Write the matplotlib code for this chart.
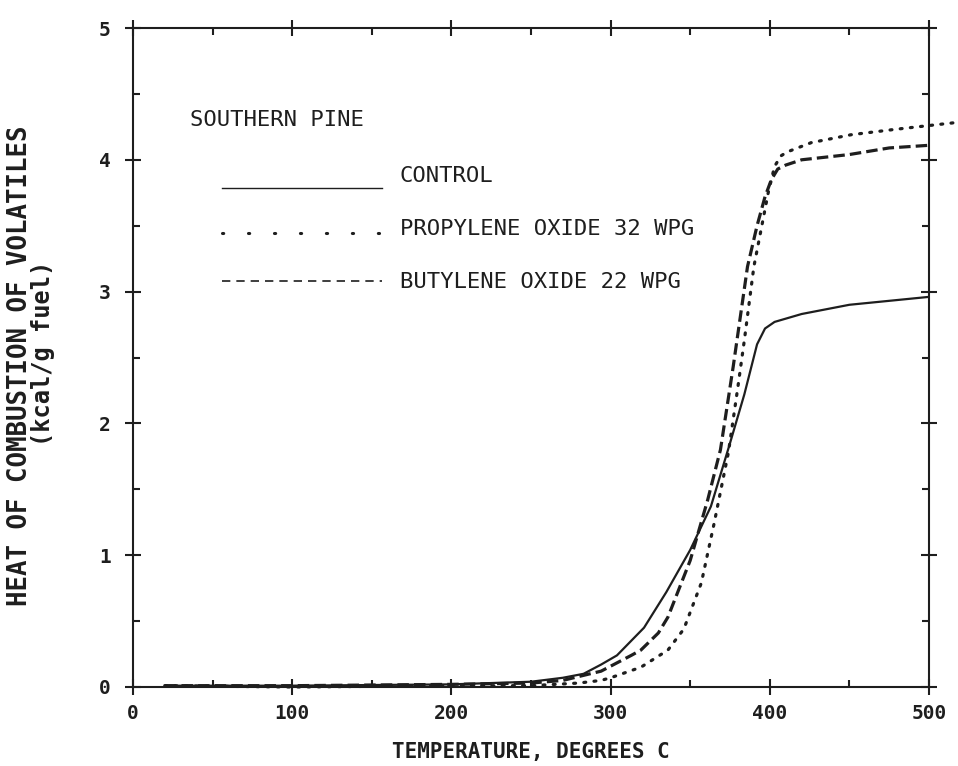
import matplotlib
matplotlib.use("Agg")
import matplotlib.pyplot as plt
from matplotlib.lines import Line2D
from matplotlib.legend_handler import HandlerLine2D
from matplotlib.ticker import MultipleLocator

# ── data ───────────────────────────────────────────────────────────────────
temp_control = [20, 100, 200, 250, 270, 283, 294, 304, 321, 335, 350, 363,
                 375, 384, 392, 397, 403, 420, 450, 475, 500]
heat_control = [0.01, 0.01, 0.02, 0.04, 0.07, 0.10, 0.17, 0.24, 0.45, 0.72,
                1.04, 1.37, 1.85, 2.22, 2.60, 2.72, 2.77, 2.83, 2.90, 2.93, 2.96]

temp_butylene = [20, 100, 200, 250, 270, 287, 294, 313, 319, 330, 336, 350,
                 361, 369, 377, 386, 392, 397, 401, 405, 410, 420, 450, 475, 500]
heat_butylene = [0.01, 0.01, 0.02, 0.03, 0.05, 0.10, 0.12, 0.24, 0.28, 0.41,
                 0.53, 0.96, 1.42, 1.80, 2.43, 3.19, 3.50, 3.72, 3.85, 3.93,
                 3.96, 4.00, 4.04, 4.09, 4.11]

temp_propylene = [20, 100, 200, 250, 280, 294, 300, 319, 336, 346, 357, 365,
                  374, 380, 384, 390, 395, 399, 403, 407, 411, 426, 451, 478,
                  500, 515]
heat_propylene = [0.01, 0.00, 0.01, 0.01, 0.03, 0.05, 0.07, 0.15, 0.28, 0.44,
                  0.79, 1.24, 1.78, 2.28, 2.63, 3.19, 3.50, 3.75, 3.95, 4.03,
                  4.06, 4.13, 4.19, 4.23, 4.26, 4.28]

series_labels = ["CONTROL", "PROPYLENE OXIDE 32 WPG", "BUTYLENE OXIDE 22 WPG"]

ink = "#1e1e1e"
mono = "DejaVu Sans Mono"
W, H = 958, 766


class DroppedLine(HandlerLine2D):
    """Legend line drawn a little below the label's centre (like the original)."""
    def __init__(self, drop, **kw):
        super().__init__(**kw)
        self.drop = drop

    def create_artists(self, legend, orig_handle, xdescent, ydescent,
                       width, height, fontsize, trans):
        return super().create_artists(legend, orig_handle, xdescent,
                                      ydescent + 2 * self.drop, width, height,
                                      fontsize, trans)


fig = plt.figure(figsize=(W / 100, H / 100), dpi=100)
ax = fig.add_axes([133 / W, 1 - 687 / H, (929 - 133) / W, (687 - 28) / H])

ax.plot(temp_control, heat_control, color=ink, lw=1.6, zorder=3)
ax.plot(temp_propylene, heat_propylene, color=ink, lw=2.3,
        linestyle=(0, (0.6, 2.6)), dash_capstyle="round", clip_on=False, zorder=3)
ax.plot(temp_butylene, heat_butylene, color=ink, lw=2.3,
        linestyle=(0, (3.6, 1.6)), zorder=3)

ax.set_xlim(0, 500)
ax.set_ylim(0, 5)
ax.xaxis.set_major_locator(MultipleLocator(100))
ax.xaxis.set_minor_locator(MultipleLocator(50))
ax.yaxis.set_major_locator(MultipleLocator(1))
ax.yaxis.set_minor_locator(MultipleLocator(0.5))

ax.tick_params(which="major", direction="inout", length=12, width=1.5,
               color=ink, top=True, right=True)
ax.tick_params(which="minor", direction="in", length=5, width=1.5,
               color=ink, top=True, right=True)
ax.tick_params(axis="x", which="major", pad=6)
ax.tick_params(axis="y", which="major", pad=10)
for lab in ax.get_xticklabels() + ax.get_yticklabels():
    lab.set_fontfamily(mono)
    lab.set_fontweight("bold")
    lab.set_fontsize(14)
    lab.set_color(ink)
for sp in ax.spines.values():
    sp.set_linewidth(1.5)
    sp.set_color(ink)

ax.set_xlabel("TEMPERATURE, DEGREES C", fontfamily=mono, fontweight="bold",
              fontsize=15, color=ink, labelpad=14)
fig.text(20 / W, 1 - 366 / H, "HEAT OF COMBUSTION OF VOLATILES", rotation=90,
         ha="center", va="center", fontfamily=mono, fontweight="bold",
         fontsize=18.5, color=ink)
fig.text(43 / W, 1 - 353 / H, "(kcal/g fuel)", rotation=90,
         ha="center", va="center", fontfamily=mono, fontweight="bold",
         fontsize=17, color=ink)

# ── legend ─────────────────────────────────────────────────────────────────
ax.text((190 - 133) / 796, 1 - (120 - 28) / 659, "SOUTHERN PINE",
        transform=ax.transAxes, fontfamily=mono, fontsize=16, color=ink,
        ha="left", va="center")

h_control = Line2D([], [], color=ink, lw=1.0)
h_propylene = Line2D([], [], color=ink, lw=2.2, linestyle=(0, (0.4, 8.1)),
                     dash_capstyle="round")
h_butylene = Line2D([], [], color=ink, lw=1.2, linestyle=(0, (5.0, 3.6)))
leg = ax.legend([h_control, h_propylene, h_butylene], series_labels,
                loc="upper left",
                bbox_to_anchor=((222 - 133) / 796, 1 - (166 - 28) / 659),
                frameon=False, handlelength=7.2, handletextpad=0.8,
                labelspacing=1.49, borderpad=0, borderaxespad=0,
                prop={"family": mono, "size": 16},
                handler_map={h_control: DroppedLine(10.0),
                             h_propylene: DroppedLine(4.3),
                             h_butylene: DroppedLine(0.7)})
for t in leg.get_texts():
    t.set_color(ink)

fig.savefig("out.png", dpi=100)
